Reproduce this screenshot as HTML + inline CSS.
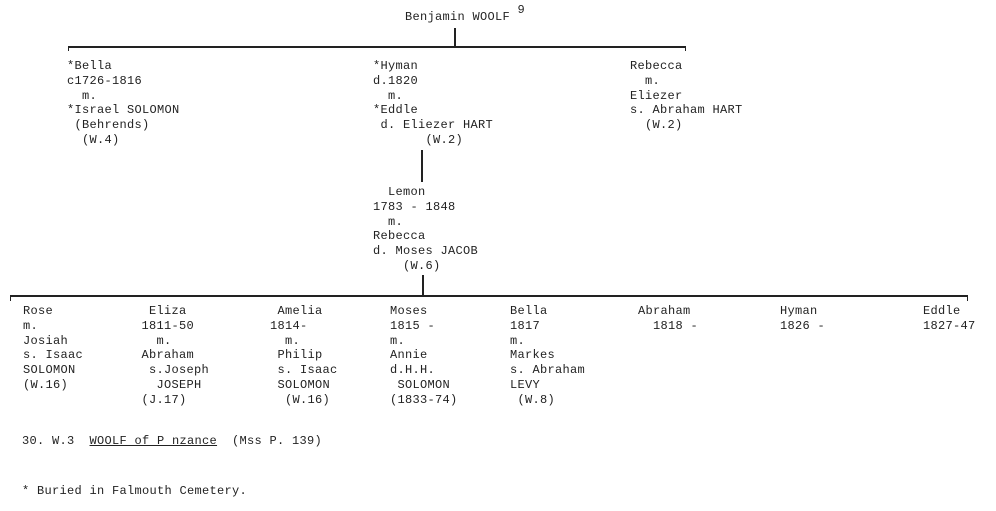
<!DOCTYPE html>
<html><head><meta charset="utf-8"><style>
html,body{margin:0;padding:0;background:#fff;}
body{width:996px;height:511px;position:relative;overflow:hidden;}
pre{position:absolute;margin:0;font-family:"Liberation Mono",monospace;font-size:12px;line-height:14.8px;color:#222;letter-spacing:0.3px;}
.l{position:absolute;background:#222;}
</style></head><body>
<pre style="left:405px;top:10px">Benjamin WOOLF <span style="position:relative;top:-7px">9</span></pre>
<div class="l" style="left:454px;top:28px;width:2px;height:19px"></div>
<div class="l" style="left:68px;top:46px;width:618px;height:2px"></div>
<div class="l" style="left:68px;top:46px;width:1px;height:5px"></div>
<div class="l" style="left:685px;top:46px;width:1px;height:5px"></div>

<pre style="left:67px;top:59px">*Bella
c1726-1816
  m.
*Israel SOLOMON
 (Behrends)
  (W.4)</pre>
<pre style="left:373px;top:59px">*Hyman
d.1820
  m.
*Eddle
 d. Eliezer HART
       (W.2)</pre>
<pre style="left:630px;top:59px">Rebecca
  m.
Eliezer
s. Abraham HART
  (W.2)</pre>

<div class="l" style="left:421px;top:150px;width:2px;height:32px"></div>
<pre style="left:373px;top:185px">  Lemon
1783 - 1848
  m.
Rebecca
d. Moses JACOB
    (W.6)</pre>

<div class="l" style="left:422px;top:275px;width:2px;height:21px"></div>
<div class="l" style="left:10px;top:295px;width:958px;height:2px"></div>
<div class="l" style="left:10px;top:295px;width:1px;height:6px"></div>
<div class="l" style="left:967px;top:295px;width:1px;height:6px"></div>

<pre style="left:23px;top:304px">Rose
m.
Josiah
s. Isaac
SOLOMON
(W.16)</pre>
<pre style="left:134px;top:304px">  Eliza
 1811-50
   m.
 Abraham
  s.Joseph
   JOSEPH
 (J.17)</pre>
<pre style="left:270px;top:304px"> Amelia
1814-
  m.
 Philip
 s. Isaac
 SOLOMON
  (W.16)</pre>
<pre style="left:390px;top:304px">Moses
1815 -
m.
Annie
d.H.H.
 SOLOMON
(1833-74)</pre>
<pre style="left:510px;top:304px">Bella
1817
m.
Markes
s. Abraham
LEVY
 (W.8)</pre>
<pre style="left:638px;top:304px">Abraham
  1818 -</pre>
<pre style="left:780px;top:304px">Hyman
1826 -</pre>
<pre style="left:923px;top:304px">Eddle
1827-47</pre>

<pre style="left:22px;top:434px">30. W.3  <u>WOOLF of P nzance</u>  (Mss P. 139)</pre>
<pre style="left:22px;top:484px">* Buried in Falmouth Cemetery.</pre>
</body></html>
